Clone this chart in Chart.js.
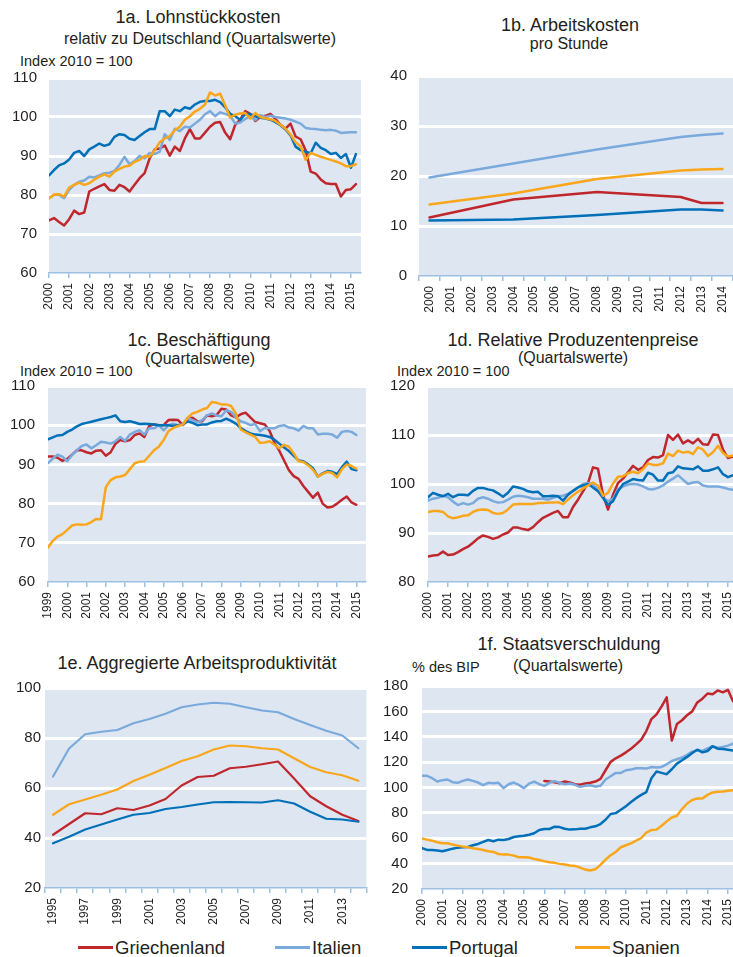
<!DOCTYPE html>
<html lang="de">
<head>
<meta charset="utf-8">
<title>Lohnstückkosten, Arbeitskosten, Beschäftigung</title>
<script src="https://cdn.jsdelivr.net/npm/chart.js@4.4.1/dist/chart.umd.min.js"></script>
<style>
  html, body { margin: 0; padding: 0; background: #fff; overflow: hidden; }
  body { width: 733px; height: 957px; position: relative; font-family: "Liberation Sans", Arial, sans-serif; color: #231f20; }
  .t { position: absolute; white-space: nowrap; line-height: 1; }
  .title { font-size: 18px; width: 400px; text-align: center; }
  .sub { font-size: 16px; width: 400px; text-align: center; }
  .unit { font-size: 14.5px; }
  canvas { position: absolute; }
  .lg-line { position: absolute; height: 3px; top: 946px; }
  .lg-text { position: absolute; top: 939px; font-size: 18.5px; line-height: 1; white-space: nowrap; }
</style>
</head>
<body>

<div class="t title" style="left:-2px; top:8px;">1a. Lohnstückkosten</div>
<div class="t sub" style="left:0px; top:31px;">relativ zu Deutschland (Quartalswerte)</div>
<div class="t unit" style="left:20px; top:54px;">Index 2010 = 100</div>

<div class="t title" style="left:370px; top:16px;">1b. Arbeitskosten</div>
<div class="t sub" style="left:369px; top:36px;">pro Stunde</div>

<div class="t title" style="left:-1px; top:331px;">1c. Beschäftigung</div>
<div class="t sub" style="left:0px; top:351px;">(Quartalswerte)</div>
<div class="t unit" style="left:20px; top:364px;">Index 2010 = 100</div>

<div class="t title" style="left:373px; top:331px;">1d. Relative Produzentenpreise</div>
<div class="t sub" style="left:373px; top:350px;">(Quartalswerte)</div>
<div class="t unit" style="left:397px; top:364px;">Index 2010 = 100</div>

<div class="t title" style="left:-3px; top:654px;">1e. Aggregierte Arbeitsproduktivität</div>

<div class="t title" style="left:369px; top:635px;">1f. Staatsverschuldung</div>
<div class="t unit" style="left:412px; top:660px;">% des BIP</div>
<div class="t sub" style="left:368px; top:658px;">(Quartalswerte)</div>

<canvas id="c1a" width="375" height="252" style="left:0px; top:66px;"></canvas>
<canvas id="c1b" width="380" height="257" style="left:370px; top:64px;"></canvas>
<canvas id="c1c" width="378" height="253" style="left:0px; top:374px;"></canvas>
<canvas id="c1d" width="375" height="253" style="left:375px; top:374px;"></canvas>
<canvas id="c1e" width="378" height="257" style="left:0px; top:676px;"></canvas>
<canvas id="c1f" width="375" height="260" style="left:375px; top:674px;"></canvas>

<div class="lg-line" style="left:78px; width:35px; background:#c0272d;"></div>
<div class="lg-text" style="left:115px;">Griechenland</div>
<div class="lg-line" style="left:275px; width:35px; background:#7aaadc;"></div>
<div class="lg-text" style="left:312px;">Italien</div>
<div class="lg-line" style="left:412px; width:35px; background:#0070b9;"></div>
<div class="lg-text" style="left:449px;">Portugal</div>
<div class="lg-line" style="left:575px; width:35px; background:#faa61a;"></div>
<div class="lg-text" style="left:612px;">Spanien</div>

<script>
// --- data ---------------------------------------------------------------
const countries = ['Griechenland', 'Italien', 'Portugal', 'Spanien'];

// 1a. Lohnstückkosten, quarterly 2000Q1 - 2015Q2
const ulcGR = [73.5, 74.1, 73.1, 72.2, 73.8, 76.0, 75.1, 75.5, 80.9, 81.6, 82.2, 82.8, 81.3, 81.1, 82.6, 82.0,
  80.9, 82.6, 84.3, 85.6, 89.4, 91.7, 91.9, 92.7, 90.1, 92.4, 91.3, 94.5, 96.9, 94.5, 94.5, 96.0,
  97.5, 98.5, 98.7, 96.0, 94.3, 98.0, 99.3, 101.5, 100.8, 99.0, 100.0, 100.3, 100.8, 99.5, 98.0, 97.0,
  98.3, 95.0, 94.3, 91.5, 86.0, 85.5, 84.0, 83.0, 82.8, 82.8, 79.6, 81.3, 81.5, 82.8];
const ulcIT = [79.2, 80.0, 80.0, 79.2, 81.3, 82.6, 83.4, 83.7, 84.7, 84.5, 85.0, 85.6, 85.7, 86.2, 87.7, 89.8,
  87.9, 88.7, 90.0, 89.4, 90.8, 90.5, 91.1, 95.6, 94.1, 97.0, 96.4, 97.5, 97.3, 98.3, 99.3, 100.7,
  101.5, 100.2, 101.2, 100.8, 100.3, 98.3, 98.6, 99.5, 100.2, 99.2, 100.5, 100.0, 100.3, 100.0, 99.8, 99.6,
  99.3, 98.8, 98.3, 97.2, 97.0, 96.9, 96.7, 96.6, 96.7, 96.5, 95.9, 96.0, 96.1, 96.1];
const ulcPT = [85.0, 86.4, 87.6, 88.1, 89.1, 90.8, 91.3, 90.0, 91.7, 92.4, 93.2, 92.6, 93.0, 94.9, 95.6, 95.4,
  94.4, 94.1, 95.1, 96.1, 96.9, 96.9, 101.5, 101.5, 100.2, 101.9, 101.5, 102.5, 102.1, 103.2, 103.9, 104.1,
  104.1, 104.4, 103.8, 102.5, 100.8, 100.2, 99.3, 100.7, 100.7, 100.2, 99.8, 99.6, 99.3, 98.7, 97.9, 96.8,
  95.3, 92.4, 91.5, 91.1, 90.7, 93.4, 92.1, 91.5, 90.5, 90.8, 89.5, 90.5, 87.0, 90.5];
const ulcES = [79.2, 80.1, 80.2, 79.6, 81.9, 82.6, 83.2, 82.6, 83.0, 83.9, 84.7, 85.3, 84.7, 86.0, 86.7, 87.3,
  87.5, 88.5, 89.0, 90.0, 89.8, 91.5, 93.5, 94.5, 95.1, 96.6, 97.5, 99.3, 100.2, 101.4, 102.1, 103.2,
  106.3, 105.5, 106.0, 103.0, 99.8, 100.6, 100.9, 101.0, 99.6, 101.0, 100.0, 99.7, 99.4, 99.0, 98.0, 97.0,
  95.5, 93.5, 92.5, 89.0, 90.8, 90.3, 89.8, 89.4, 89.0, 88.6, 88.1, 87.4, 87.4, 87.9];

// 1b. Arbeitskosten pro Stunde, annual (only some years observed)
const costYears = ['2000', '2001', '2002', '2003', '2004', '2005', '2006', '2007', '2008', '2009', '2010', '2011', '2012', '2013', '2014'];
const costGR = [11.7, null, null, null, 15.3, null, null, null, 16.8, null, null, null, 15.8, 14.6, 14.6];
const costIT = [19.7, null, null, null, 22.5, null, null, null, 25.3, null, null, null, 27.8, 28.2, 28.5];
const costPT = [11.1, null, null, null, 11.3, null, null, null, 12.2, null, null, null, 13.3, 13.3, 13.1];
const costES = [14.3, null, null, null, 16.5, null, null, null, 19.4, null, null, null, 21.1, 21.3, 21.4];

// 1c. Beschäftigung, quarterly 1999Q1 - 2015Q1
const empGR = [92.0, 92.0, 91.7, 90.9, 91.4, 92.5, 93.6, 93.6, 93.1, 92.8, 93.5, 93.6, 92.2, 93.1, 95.3, 96.2,
  95.9, 96.2, 97.5, 97.9, 97.0, 99.8, 100.2, 100.0, 100.0, 101.3, 101.4, 101.3, 100.0, 101.7, 101.9, 101.0,
  101.0, 102.5, 102.3, 102.6, 104.2, 104.0, 102.5, 102.0, 102.8, 103.2, 102.0, 100.8, 100.5, 100.2, 98.5, 95.5,
  93.5, 91.0, 88.5, 87.0, 86.3, 84.5, 83.0, 81.5, 82.8, 80.0, 79.0, 79.2, 80.0, 81.0, 81.8, 80.3, 79.7];
const empIT = [90.3, 91.5, 92.5, 92.0, 90.8, 92.4, 93.6, 94.7, 95.1, 94.1, 94.9, 95.8, 95.6, 95.3, 95.9, 97.0,
  96.0, 97.6, 98.3, 98.7, 97.6, 99.2, 99.2, 100.0, 98.7, 100.0, 100.4, 100.0, 100.2, 101.9, 101.3, 100.8,
  101.3, 102.5, 103.0, 102.5, 102.3, 103.8, 103.4, 102.0, 101.0, 100.6, 100.0, 100.3, 98.5, 99.3, 99.2, 99.2,
  99.8, 100.0, 99.4, 99.2, 98.6, 99.8, 99.2, 99.2, 97.6, 97.8, 97.8, 97.6, 96.8, 98.3, 98.5, 98.3, 97.5];
const empPT = [96.4, 96.9, 97.4, 97.5, 98.3, 98.9, 99.7, 100.3, 100.6, 100.9, 101.2, 101.5, 101.8, 102.1, 102.5, 101.0,
  100.8, 101.0, 100.7, 100.3, 100.4, 100.3, 100.2, 100.0, 100.0, 100.0, 99.8, 100.0, 100.2, 101.0, 100.6, 100.0,
  100.2, 100.2, 100.7, 101.0, 101.1, 101.7, 101.1, 100.4, 99.3, 98.5, 97.9, 97.6, 97.5, 97.3, 97.0, 96.3,
  95.3, 94.3, 93.4, 92.2, 91.0, 90.8, 90.0, 89.0, 86.9, 87.7, 88.3, 88.1, 87.5, 89.3, 90.7, 88.8, 88.5];
const empES = [68.8, 70.5, 71.6, 72.2, 73.3, 74.4, 74.7, 74.6, 74.7, 75.3, 76.1, 76.0, 84.2, 86.0, 86.7, 86.9,
  87.3, 88.8, 90.3, 90.7, 90.8, 92.2, 93.6, 94.5, 96.2, 98.5, 99.3, 99.8, 100.2, 101.9, 103.0, 103.4,
  104.0, 104.4, 105.9, 105.7, 105.3, 105.3, 104.9, 103.0, 98.9, 98.2, 97.6, 97.0, 95.5, 95.6, 95.9, 95.0,
  94.1, 95.0, 94.5, 92.8, 90.8, 90.6, 89.8, 88.6, 86.9, 87.6, 88.1, 87.8, 86.7, 88.8, 90.0, 89.6, 88.9];

// 1d. Relative Produzentenpreise, quarterly 2000Q1 - 2015Q2
const ppiGR = [85.2, 85.4, 85.5, 86.2, 85.5, 85.6, 86.1, 86.7, 87.2, 88.0, 88.9, 89.5, 89.2, 88.8, 89.1, 89.7,
  90.1, 91.1, 91.1, 90.8, 90.6, 91.2, 92.2, 93.1, 93.6, 94.1, 94.5, 93.2, 93.2, 95.3, 96.8, 98.5,
  100.2, 103.4, 103.1, 97.8, 94.8, 97.8, 100.2, 101.1, 102.4, 103.7, 102.9, 103.4, 104.9, 105.5, 105.4, 105.9,
  110.0, 109.0, 110.1, 108.3, 108.9, 108.3, 109.2, 108.1, 108.0, 110.1, 110.0, 107.0, 105.3, 105.6];
const ppiIT = [96.6, 97.0, 97.2, 97.6, 97.3, 96.4, 95.7, 96.1, 95.8, 96.1, 97.0, 97.3, 97.0, 96.5, 96.2, 96.3,
  96.8, 97.4, 97.6, 97.5, 97.3, 97.0, 97.0, 97.0, 96.8, 97.2, 97.5, 97.6, 98.0, 98.6, 99.3, 100.0,
  100.2, 99.9, 98.9, 97.2, 96.5, 97.0, 98.9, 99.5, 99.9, 100.0, 99.9, 99.5, 99.0, 98.9, 99.2, 99.7,
  100.5, 101.1, 101.8, 100.9, 100.0, 100.3, 100.4, 99.7, 99.5, 99.5, 99.5, 99.3, 99.0, 98.8];
const ppiPT = [97.3, 98.2, 97.8, 97.5, 98.0, 97.3, 97.8, 97.8, 97.7, 98.6, 99.2, 99.2, 98.9, 98.7, 98.1, 97.4,
  98.2, 99.5, 99.3, 99.0, 98.5, 98.3, 98.4, 97.5, 97.5, 97.6, 97.5, 96.6, 97.8, 98.6, 99.3, 99.7,
  100.0, 99.3, 98.5, 97.2, 95.7, 96.5, 98.5, 100.0, 100.5, 101.0, 100.8, 100.7, 102.3, 101.9, 100.7, 100.7,
  102.2, 102.4, 103.6, 103.2, 103.1, 103.0, 103.6, 102.7, 102.7, 103.0, 103.4, 102.0, 101.4, 101.8];
const ppiES = [94.3, 94.5, 94.5, 94.3, 93.4, 93.0, 93.2, 93.5, 93.6, 94.3, 94.7, 94.8, 94.7, 94.1, 93.9, 94.1,
  94.8, 95.8, 95.9, 95.9, 95.9, 95.9, 96.1, 96.1, 96.2, 96.2, 96.3, 95.9, 96.8, 97.7, 98.4, 99.1,
  99.7, 100.3, 99.7, 97.6, 98.2, 100.1, 101.5, 101.6, 102.2, 102.5, 102.2, 103.0, 104.2, 103.9, 103.9, 104.2,
  106.2, 105.7, 106.8, 106.4, 106.6, 106.1, 107.5, 107.0, 105.7, 106.5, 107.8, 106.3, 105.6, 105.8];

// 1e. Aggregierte Arbeitsproduktivität, annual 1995 - 2014
const prodYears = ['1995', '1996', '1997', '1998', '1999', '2000', '2001', '2002', '2003', '2004',
  '2005', '2006', '2007', '2008', '2009', '2010', '2011', '2012', '2013', '2014'];
const prodGR = [41.3, 45.6, 49.9, 49.5, 51.9, 51.2, 53.0, 55.6, 61.0, 64.4, 64.9, 67.9, 68.5, 69.5, 70.6, 63.8, 56.7, 52.7, 49.3, 46.8];
const prodIT = [64.6, 75.8, 81.5, 82.5, 83.2, 85.9, 87.6, 89.7, 92.3, 93.4, 94.1, 93.7, 92.3, 91.0, 90.3, 87.6, 85.2, 82.9, 81.0, 75.9];
const prodPT = [37.9, 40.5, 43.4, 45.4, 47.4, 49.3, 50.0, 51.6, 52.4, 53.4, 54.3, 54.4, 54.3, 54.2, 55.1, 53.8, 50.5, 47.7, 47.4, 46.5];
const prodES = [49.3, 53.5, 55.4, 57.3, 59.4, 62.8, 65.3, 68.0, 70.8, 72.7, 75.4, 77.0, 76.7, 75.9, 75.4, 71.9, 68.4, 66.3, 65.1, 62.9];

// 1f. Staatsverschuldung, % des BIP, quarterly 2000Q1 - 2015Q2 (Greece from 2006Q1)
const debtGR = [null, null, null, null, null, null, null, null, null, null, null, null,
  null, null, null, null, null, null, null, null, null, null, null, null,
  105.2, 104.7, 104.2, 103.4, 104.7, 103.9, 102.6, 102.1, 103.1, 103.7, 104.7, 106.8,
  113.6, 120.2, 123.0, 125.1, 127.7, 130.6, 134.0, 137.7, 144.5, 153.9, 157.6, 164.0,
  171.0, 137.0, 150.0, 153.0, 157.0, 160.0, 167.0, 170.0, 174.0, 173.5, 176.5, 175.0, 177.0, 168.0];
const debtIT = [109.2, 109.2, 107.3, 104.7, 105.8, 106.3, 104.2, 103.7, 105.2, 106.3, 105.2, 103.9, 101.8, 103.7, 103.4, 103.7,
  99.5, 102.6, 103.9, 102.1, 99.5, 103.1, 104.7, 102.6, 101.3, 103.7, 105.0, 103.7, 102.6, 103.1, 102.1, 100.5,
  101.3, 101.8, 100.8, 101.3, 106.3, 108.9, 111.5, 111.5, 113.6, 114.1, 115.2, 115.2, 114.9, 116.2, 115.7, 116.2,
  118.3, 120.9, 122.3, 123.6, 125.7, 128.3, 129.3, 128.8, 130.9, 132.5, 131.4, 131.9, 133.0, 134.6];
const debtPT = [52.1, 50.8, 50.8, 50.3, 49.7, 50.8, 51.8, 52.6, 52.9, 53.1, 54.5, 55.5, 57.1, 58.6, 57.6, 58.9,
  58.6, 59.4, 61.0, 61.5, 62.0, 62.8, 63.9, 66.5, 67.3, 67.3, 69.1, 68.8, 67.5, 66.8, 67.0, 67.5,
  67.5, 68.6, 69.4, 71.2, 74.6, 79.1, 79.8, 82.5, 85.3, 88.5, 91.6, 94.2, 96.3, 107.3, 112.6, 111.5,
  110.5, 114.4, 118.8, 121.5, 124.1, 127.2, 129.8, 127.7, 128.8, 132.5, 130.6, 130.4, 129.8, 129.1];
const debtES = [59.9, 58.9, 58.1, 56.8, 56.0, 56.0, 55.0, 54.2, 53.4, 52.9, 52.1, 51.6, 50.8, 49.7, 49.2, 47.6,
  47.1, 47.1, 46.3, 45.0, 45.0, 44.8, 43.7, 42.9, 41.9, 41.1, 40.6, 39.8, 39.3, 38.5, 38.2, 36.9,
  35.3, 34.6, 35.6, 39.0, 43.2, 46.6, 49.2, 52.9, 54.5, 56.0, 58.1, 60.2, 64.4, 66.5, 66.8, 69.9,
  73.3, 76.4, 77.7, 83.0, 87.4, 90.1, 91.4, 91.4, 94.2, 96.1, 96.6, 96.9, 97.4, 97.9];

// year ticks on the quarterly axes
const yearTicks2000 = [2000, 2001, 2002, 2003, 2004, 2005, 2006, 2007, 2008, 2009, 2010, 2011, 2012, 2013, 2014, 2015];
const yearTicks1999 = [1999, 2000, 2001, 2002, 2003, 2004, 2005, 2006, 2007, 2008, 2009, 2010, 2011, 2012, 2013, 2014, 2015];

// --- styling ------------------------------------------------------------
const COLORS = ['#c0272d', '#7aaadc', '#0070b9', '#faa61a'];
const PLOT_BG = '#dee6f2';
const AXIS_BLUE = '#9dbfe2';
const TEXT = '#231f20';

Chart.defaults.font.family = '"Liberation Sans", Arial, sans-serif';
Chart.defaults.color = TEXT;

// fill the plot area like the Excel original
const plotBg = {
  id: 'plotBg',
  beforeDraw(chart) {
    const { ctx, chartArea: a } = chart;
    ctx.save();
    ctx.fillStyle = PLOT_BG;
    ctx.fillRect(a.left, a.top, a.right - a.left, a.bottom - a.top);
    ctx.restore();
  }
};

// quarter index -> fractional year
function quarterly(startYear, values) {
  return values.map((v, i) => ({ x: startYear + i / 4, y: v }));
}

function lines(seriesList, width) {
  // Spanien drawn last (on top), like the original
  return seriesList.map((data, i) => ({
    label: countries[i],
    data,
    borderColor: COLORS[i],
    backgroundColor: COLORS[i],
    borderWidth: width,
    pointRadius: 0,
    tension: 0,
    spanGaps: true,
    borderJoinStyle: 'round',
    borderCapStyle: 'round',
    order: 3 - i,
  }));
}

function makePanel(id, o) {
  const xTickFont = { size: 12 };
  let x;
  if (o.xTicks) {
    x = {
      type: 'linear',
      min: o.xMin,
      max: o.xMax,
      afterBuildTicks: s => { s.ticks = o.xTicks.map(v => ({ value: v })); },
      ticks: { autoSkip: false, minRotation: 90, maxRotation: 90, padding: 5, font: xTickFont, callback: v => String(v) },
    };
  } else {
    x = {
      type: 'category',
      offset: true,
      ticks: { autoSkip: false, minRotation: 90, maxRotation: 90, padding: 5, font: xTickFont, callback: o.xLabel },
    };
  }
  x.grid = { drawOnChartArea: false, drawTicks: true, tickLength: 5, color: AXIS_BLUE, lineWidth: 1.5, offset: !o.xTicks };
  x.border = { display: true, color: AXIS_BLUE, width: 1.5 };
  x.afterFit = s => { s.height = 45; };

  const y = {
    min: o.yMin,
    max: o.yMax,
    ticks: { stepSize: o.yStep, padding: o.yPad, font: { size: 15 } },
    grid: {
      color: c => (c.tick && c.tick.value === o.yMin) ? 'rgba(0,0,0,0)' : '#ffffff',
      lineWidth: 3,
      drawTicks: false,
    },
    border: { display: false },
    afterFit: s => {
      s.width = o.yWidth;
      // label padding must not push the plot area down
      s.paddingTop = 9;
      s.paddingBottom = 9;
    },
  };

  return new Chart(document.getElementById(id), {
    type: 'line',
    data: { labels: o.labels, datasets: o.datasets },
    options: {
      responsive: false,
      animation: false,
      layout: { padding: { top: 12, right: o.padRight, left: 0, bottom: 0 } },
      plugins: { legend: { display: false }, tooltip: { enabled: false } },
      scales: { x, y },
    },
    plugins: [plotBg],
  });
}

// --- panels -------------------------------------------------------------
makePanel('c1a', {
  datasets: lines([ulcGR, ulcIT, ulcPT, ulcES].map(s => quarterly(2000, s)), 2.5),
  xTicks: yearTicks2000, xMin: 2000, xMax: 2015.5,
  yMin: 60, yMax: 110, yStep: 10, yPad: 12, yWidth: 49, padRight: 14,
});

makePanel('c1b', {
  labels: costYears,
  datasets: lines([costGR, costIT, costPT, costES], 2.5),
  xLabel: (v, i) => costYears[i],
  yMin: 0, yMax: 40, yStep: 10, yPad: 12, yWidth: 49, padRight: 17,
});

makePanel('c1c', {
  datasets: lines([empGR, empIT, empPT, empES].map(s => quarterly(1999, s)), 2.5),
  xTicks: yearTicks1999, xMin: 1999, xMax: 2015.5,
  yMin: 60, yMax: 110, yStep: 10, yPad: 13, yWidth: 48, padRight: 12,
});

makePanel('c1d', {
  datasets: lines([ppiGR, ppiIT, ppiPT, ppiES].map(s => quarterly(2000, s)), 2.5),
  xTicks: yearTicks2000, xMin: 2000, xMax: 2015.25,
  yMin: 80, yMax: 120, yStep: 10, yPad: 13, yWidth: 53, padRight: 17,
});

makePanel('c1e', {
  labels: prodYears,
  datasets: lines([prodGR, prodIT, prodPT, prodES], 2.2),
  xLabel: (v, i) => (i % 2 === 0 ? prodYears[i] : ''),
  yMin: 20, yMax: 100, yStep: 20, yPad: 4, yWidth: 45, padRight: 9,
});

makePanel('c1f', {
  datasets: lines([debtGR, debtIT, debtPT, debtES].map(s => quarterly(2000, s)), 2.5),
  xTicks: yearTicks2000, xMin: 2000, xMax: 2015.25,
  yMin: 20, yMax: 180, yStep: 20, yPad: 14, yWidth: 47, padRight: 17,
});
</script>
</body>
</html>
